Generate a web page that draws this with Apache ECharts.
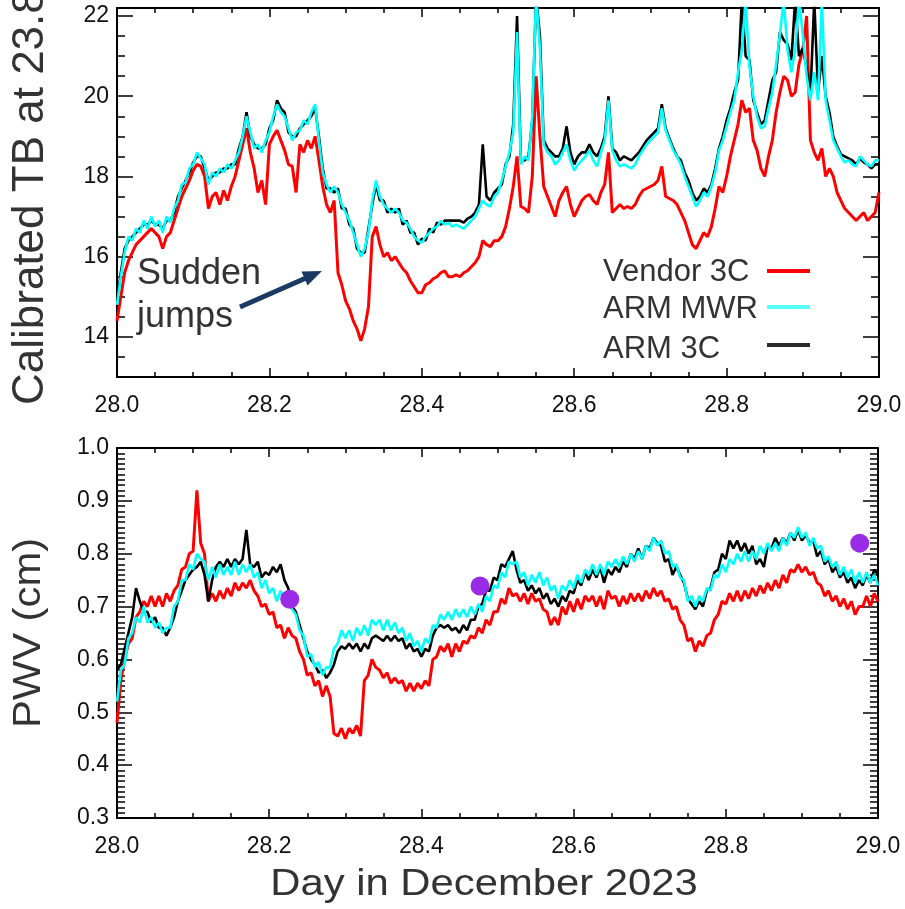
<!DOCTYPE html>
<html>
<head>
<meta charset="utf-8">
<script src="https://cdn.jsdelivr.net/npm/echarts@6/dist/echarts.min.js"></script>
<style>
html,body{margin:0;padding:0;background:#fff;}
#chart{width:905px;height:909px;}
</style>
</head>
<body>
<div id="chart"></div>
<script>
// Sampling grid of the time series (day in December 2023)
const timeStart = 28.0;
const timeStep = 0.005;

// Top panel: calibrated TB at 23.8 GHz (K), one value per time step
const tbVendor3C = [
14.4,15.0,15.6,15.9,16.1,16.3,16.4,16.5,16.6,16.7,
16.6,16.5,16.2,16.5,16.6,16.9,17.2,17.5,17.7,17.9,
18.15,18.3,18.25,18.0,17.2,17.5,17.6,17.3,17.65,17.4,
17.75,18.0,18.4,18.8,19.2,18.6,18.2,17.6,17.9,17.3,
18.8,19.0,19.15,18.9,18.65,18.3,18.25,17.6,18.8,18.6,
18.9,18.7,19.0,18.4,17.75,17.3,17.1,17.4,15.6,15.3,
14.9,14.7,14.4,14.2,13.9,14.2,14.75,16.5,16.75,16.3,
16.0,16.1,15.9,16.0,15.85,15.7,15.6,15.4,15.25,15.1,
15.1,15.3,15.35,15.45,15.5,15.6,15.65,15.5,15.5,15.55,
15.5,15.6,15.65,15.75,15.85,16.0,16.4,16.3,16.25,16.4,
16.4,16.5,16.75,17.2,17.75,18.5,17.25,17.2,17.1,18.0,
20.5,19.0,17.75,17.5,17.25,17.0,17.4,17.6,17.75,17.3,
17.0,17.2,17.4,17.5,17.55,17.4,17.3,17.6,17.8,18.6,
17.1,17.2,17.3,17.2,17.25,17.2,17.3,17.5,17.65,17.7,
17.75,17.8,17.9,18.25,17.5,17.45,17.4,17.3,17.1,16.9,
16.6,16.3,16.2,16.4,16.6,16.5,16.75,17.2,17.75,17.6,
18.0,18.5,18.9,19.3,19.9,19.6,19.7,18.9,18.65,18.2,
18.0,18.5,18.9,19.6,20.1,20.5,20.4,20.0,20.1,20.8,
21.15,22.0,18.9,18.6,18.4,18.7,18.0,18.2,18.0,17.6,
17.4,17.2,17.1,17.0,16.9,17.0,17.1,16.9,17.0,17.1,
17.6
];
const tbArmMWR = [
14.8,15.5,16.1,16.5,16.4,16.7,16.6,16.9,16.7,17.0,
16.75,16.9,16.6,17.0,16.85,17.2,17.4,17.8,17.85,18.2,
18.3,18.6,18.45,18.3,17.8,18.1,18.0,18.2,18.1,18.3,
18.2,18.4,18.6,19.0,19.5,19.1,18.7,18.8,18.6,18.9,
19.1,19.5,19.8,19.6,19.5,19.2,18.9,19.1,19.15,19.4,
19.3,19.6,19.8,18.9,18.1,17.8,17.6,17.75,17.6,17.3,
17.1,16.9,16.6,16.3,16.0,16.2,16.6,17.4,17.9,17.5,
17.3,17.2,17.1,17.2,17.1,16.9,16.85,16.7,16.5,16.4,
16.35,16.5,16.6,16.7,16.75,16.9,16.8,16.85,16.75,16.8,
16.75,16.7,16.8,16.9,17.0,17.2,17.4,17.3,17.25,17.5,
17.6,17.9,18.25,18.6,19.1,21.6,18.3,18.5,18.4,19.5,
22.5,21.2,18.8,18.6,18.5,18.3,18.4,18.6,18.8,18.4,
18.15,18.3,18.4,18.5,18.65,18.4,18.25,18.6,18.9,19.9,
18.65,18.4,18.25,18.3,18.25,18.2,18.3,18.5,18.65,18.8,
18.9,19.0,19.1,19.7,19.15,18.9,18.65,18.5,18.3,18.0,
17.75,17.5,17.25,17.4,17.6,17.5,17.75,18.1,18.65,18.9,
19.25,19.6,19.9,20.6,21.15,22.4,20.75,20.0,19.5,19.2,
19.25,19.7,20.1,20.8,21.55,22.4,21.15,20.6,21.15,22.4,
21.55,20.5,19.9,20.6,19.9,22.4,19.9,19.4,18.9,18.7,
18.5,18.35,18.4,18.3,18.25,18.5,18.4,18.3,18.25,18.4,
18.4
];
const tbArm3C = [
14.9,15.6,16.2,16.4,16.5,16.6,16.7,16.8,16.8,16.9,
16.8,16.8,16.7,16.9,16.9,17.1,17.5,17.7,17.9,18.1,
18.35,18.5,18.5,18.2,17.9,18.0,18.1,18.1,18.2,18.2,
18.3,18.3,18.7,19.0,19.6,19.0,18.8,18.7,18.7,18.8,
19.2,19.4,19.9,19.7,19.6,19.1,19.0,19.0,19.2,19.3,
19.4,19.5,19.7,19.0,18.2,17.7,17.7,17.6,17.7,17.2,
17.2,16.8,16.7,16.2,16.1,16.1,16.7,17.3,17.8,17.4,
17.4,17.1,17.2,17.1,17.2,16.8,16.9,16.6,16.6,16.3,
16.45,16.4,16.7,16.6,16.85,16.8,16.9,16.9,16.9,16.9,
16.9,16.85,16.95,17.0,17.1,17.3,18.8,17.5,17.4,17.6,
17.7,17.8,18.3,18.5,19.3,22.0,18.4,18.4,18.5,19.4,
22.5,21.5,18.9,18.7,18.6,18.5,18.5,18.7,19.25,18.6,
18.3,18.5,18.6,18.6,18.8,18.6,18.5,18.7,19.0,20.0,
18.7,18.6,18.4,18.5,18.45,18.4,18.5,18.6,18.75,18.9,
19.0,19.1,19.2,19.8,19.2,18.95,18.7,18.5,18.4,18.1,
17.9,17.6,17.4,17.5,17.7,17.6,17.8,18.2,18.7,19.0,
19.4,19.7,20.1,20.4,22.4,21.0,20.9,19.9,19.6,19.3,
19.4,19.9,20.4,20.6,21.6,21.4,21.3,20.9,22.4,21.0,
21.2,20.7,20.0,22.4,20.1,21.0,20.0,19.6,19.0,18.75,
18.55,18.5,18.45,18.4,18.3,18.45,18.35,18.3,18.2,18.3,
18.3
];

// Bottom panel: PWV (cm), one value per time step
const pwvVendor3C = [
0.48,0.56,0.60,0.63,0.64,0.68,0.69,0.71,0.70,0.72,
0.70,0.72,0.70,0.725,0.71,0.73,0.74,0.77,0.775,0.80,
0.805,0.92,0.82,0.80,0.71,0.725,0.71,0.73,0.715,0.735,
0.72,0.745,0.73,0.745,0.735,0.75,0.73,0.72,0.70,0.705,
0.685,0.69,0.66,0.665,0.64,0.66,0.645,0.64,0.615,0.60,
0.57,0.575,0.55,0.56,0.53,0.55,0.53,0.46,0.455,0.47,
0.45,0.47,0.46,0.475,0.455,0.56,0.57,0.60,0.585,0.58,
0.565,0.575,0.555,0.565,0.555,0.56,0.54,0.555,0.54,0.555,
0.545,0.56,0.55,0.60,0.605,0.625,0.615,0.63,0.605,0.63,
0.615,0.635,0.63,0.645,0.64,0.66,0.65,0.675,0.665,0.69,
0.69,0.715,0.705,0.735,0.72,0.725,0.71,0.725,0.705,0.725,
0.71,0.715,0.695,0.69,0.665,0.68,0.665,0.70,0.685,0.71,
0.69,0.715,0.695,0.72,0.71,0.72,0.70,0.72,0.695,0.73,
0.715,0.72,0.70,0.72,0.705,0.725,0.71,0.725,0.71,0.73,
0.715,0.735,0.72,0.73,0.71,0.715,0.695,0.70,0.675,0.665,
0.635,0.64,0.615,0.635,0.625,0.645,0.65,0.675,0.685,0.71,
0.705,0.725,0.71,0.73,0.71,0.73,0.715,0.735,0.72,0.74,
0.725,0.745,0.73,0.75,0.735,0.76,0.745,0.77,0.765,0.78,
0.765,0.775,0.76,0.765,0.745,0.74,0.72,0.73,0.71,0.72,
0.70,0.715,0.695,0.71,0.685,0.70,0.70,0.72,0.70,0.725,
0.71
];
const pwvArmMWR = [
0.52,0.58,0.59,0.64,0.65,0.68,0.67,0.70,0.67,0.68,
0.66,0.67,0.65,0.66,0.66,0.70,0.71,0.75,0.75,0.78,
0.77,0.80,0.79,0.785,0.75,0.775,0.755,0.78,0.76,0.775,
0.76,0.785,0.76,0.78,0.765,0.78,0.755,0.765,0.735,0.75,
0.725,0.735,0.71,0.73,0.71,0.72,0.695,0.685,0.655,0.645,
0.605,0.61,0.585,0.595,0.57,0.585,0.585,0.62,0.63,0.655,
0.64,0.655,0.635,0.66,0.645,0.665,0.645,0.675,0.665,0.675,
0.655,0.675,0.655,0.67,0.65,0.66,0.635,0.65,0.625,0.635,
0.615,0.64,0.63,0.665,0.66,0.685,0.675,0.69,0.675,0.695,
0.68,0.695,0.68,0.70,0.685,0.705,0.69,0.72,0.71,0.74,
0.735,0.765,0.755,0.785,0.78,0.785,0.755,0.765,0.74,0.76,
0.745,0.765,0.74,0.755,0.73,0.74,0.715,0.74,0.73,0.75,
0.735,0.76,0.745,0.77,0.76,0.78,0.76,0.78,0.76,0.785,
0.775,0.79,0.775,0.795,0.78,0.80,0.785,0.805,0.79,0.815,
0.805,0.83,0.815,0.825,0.80,0.805,0.775,0.78,0.755,0.75,
0.71,0.72,0.70,0.72,0.71,0.735,0.73,0.76,0.755,0.78,
0.765,0.79,0.78,0.80,0.785,0.805,0.785,0.805,0.79,0.815,
0.80,0.82,0.805,0.82,0.805,0.83,0.815,0.84,0.83,0.85,
0.83,0.84,0.815,0.83,0.81,0.815,0.785,0.795,0.775,0.785,
0.76,0.775,0.755,0.77,0.745,0.765,0.745,0.765,0.745,0.76,
0.74
];
const pwvArm3C = [
0.58,0.59,0.62,0.65,0.68,0.735,0.71,0.69,0.69,0.67,
0.68,0.66,0.66,0.645,0.66,0.68,0.71,0.73,0.75,0.76,
0.77,0.775,0.785,0.76,0.71,0.75,0.775,0.785,0.775,0.79,
0.775,0.79,0.78,0.79,0.845,0.78,0.775,0.785,0.755,0.765,
0.76,0.775,0.765,0.78,0.75,0.735,0.70,0.69,0.665,0.64,
0.615,0.60,0.59,0.575,0.58,0.565,0.575,0.59,0.615,0.625,
0.62,0.63,0.62,0.63,0.615,0.63,0.62,0.64,0.645,0.64,
0.635,0.645,0.635,0.645,0.635,0.64,0.62,0.63,0.615,0.62,
0.605,0.62,0.615,0.645,0.66,0.665,0.66,0.665,0.655,0.66,
0.65,0.665,0.655,0.675,0.675,0.70,0.705,0.73,0.73,0.755,
0.75,0.78,0.775,0.79,0.805,0.77,0.745,0.75,0.73,0.74,
0.725,0.735,0.715,0.725,0.705,0.715,0.70,0.72,0.71,0.73,
0.725,0.75,0.74,0.765,0.75,0.77,0.755,0.775,0.745,0.77,
0.76,0.775,0.765,0.785,0.775,0.80,0.79,0.81,0.79,0.815,
0.81,0.83,0.82,0.815,0.785,0.79,0.76,0.775,0.76,0.745,
0.715,0.705,0.695,0.71,0.70,0.73,0.735,0.765,0.77,0.80,
0.79,0.825,0.81,0.825,0.805,0.82,0.80,0.815,0.78,0.79,
0.775,0.815,0.81,0.83,0.815,0.83,0.82,0.84,0.825,0.845,
0.825,0.835,0.82,0.825,0.795,0.805,0.78,0.79,0.765,0.775,
0.755,0.765,0.745,0.755,0.735,0.75,0.74,0.76,0.745,0.77,
0.76
];
// Purple reference points in the PWV panel: [day, PWV]
const pwvPointDays = [28.227, 28.477, 28.976];
const pwvPointValues = [0.714, 0.739, 0.82];

// Axis ticks
const xMin = 28.0, xMax = 29.0, xStep = 0.2;
const tbMin = 13, tbMax = 22.2, tbLabelValues = [14, 16, 18, 20, 22];
const pwvMin = 0.3, pwvMax = 1.0, pwvStep = 0.1;

function toPairs(arr) {
  return arr.map((v, i) => [+(timeStart + i * timeStep).toFixed(3), v]);
}

const chart = echarts.init(document.getElementById('chart'), null, {renderer: 'canvas'});
const FONT = '"Liberation Sans", Arial, sans-serif';
const axisLine = {show: true, onZero: false, lineStyle: {color: '#000', width: 2}};
const tickLine = {color: '#000', width: 1.5};

function xAxisDef(grid, pos, labels) {
  return {
    type: 'value', gridIndex: grid, position: pos, min: xMin, max: xMax, interval: xStep,
    axisLine: axisLine,
    axisTick: {show: true, inside: true, length: 9, lineStyle: tickLine},
    minorTick: {show: true, splitNumber: 4, length: 5, lineStyle: tickLine},
    splitLine: {show: false}, minorSplitLine: {show: false},
    axisLabel: {show: labels, margin: 17, fontFamily: FONT, fontSize: 23, color: '#111',
      formatter: v => v.toFixed(1)}
  };
}

function lineSeries(name, xi, yi, arr, color, width) {
  return {name: name, type: 'line', xAxisIndex: xi, yAxisIndex: yi, data: toPairs(arr),
    showSymbol: false, symbol: 'none', clip: true,
    lineStyle: {color: color, width: width, join: 'bevel'}, itemStyle: {color: color}};
}

const option = {
  animation: false,
  backgroundColor: '#fff',
  grid: [
    {left: 117, top: 8, width: 762, height: 369},
    {left: 117, top: 448, width: 761, height: 370}
  ],
  xAxis: [
    xAxisDef(0, 'bottom', true),
    xAxisDef(0, 'top', false),
    xAxisDef(1, 'bottom', true),
    xAxisDef(1, 'top', false)
  ],
  yAxis: [
    { type: 'value', gridIndex: 0, position: 'left', min: tbMin, max: tbMax, interval: 0.5,
      axisLine: axisLine,
      axisTick: {show: true, inside: true, length: 8, lineStyle: tickLine},
      splitLine: {show: false},
      axisLabel: {show: true, customValues: tbLabelValues, margin: 8, fontFamily: FONT, fontSize: 23, color: '#111',
        formatter: v => String(Math.round(v))} },
    { type: 'value', gridIndex: 0, position: 'left', min: tbMin, max: tbMax, interval: 0.5,
      axisLine: {show: false},
      axisTick: {show: true, inside: true, length: 16, customValues: tbLabelValues, lineStyle: tickLine},
      splitLine: {show: false}, axisLabel: {show: false} },
    { type: 'value', gridIndex: 0, position: 'right', min: tbMin, max: tbMax, interval: 0.5,
      axisLine: axisLine,
      axisTick: {show: true, inside: true, length: 8, lineStyle: tickLine},
      splitLine: {show: false}, axisLabel: {show: false} },
    { type: 'value', gridIndex: 0, position: 'right', min: tbMin, max: tbMax, interval: 0.5,
      axisLine: {show: false},
      axisTick: {show: true, inside: true, length: 16, customValues: tbLabelValues, lineStyle: tickLine},
      splitLine: {show: false}, axisLabel: {show: false} },
    { type: 'value', gridIndex: 1, position: 'left', min: pwvMin, max: pwvMax, interval: pwvStep,
      axisLine: axisLine,
      axisTick: {show: true, inside: true, length: 15, lineStyle: tickLine},
      minorTick: {show: true, splitNumber: 10, length: 8, lineStyle: tickLine},
      splitLine: {show: false}, minorSplitLine: {show: false},
      axisLabel: {show: true, margin: 8, fontFamily: FONT, fontSize: 23, color: '#111',
        formatter: v => v.toFixed(1)} },
    { type: 'value', gridIndex: 1, position: 'right', min: pwvMin, max: pwvMax, interval: pwvStep,
      axisLine: axisLine,
      axisTick: {show: true, inside: true, length: 15, lineStyle: tickLine},
      minorTick: {show: true, splitNumber: 10, length: 8, lineStyle: tickLine},
      splitLine: {show: false}, minorSplitLine: {show: false},
      axisLabel: {show: false} }
  ],
  series: [
    lineSeries('Vendor 3C', 0, 0, tbVendor3C, '#ff0000', 3),
    lineSeries('ARM 3C', 0, 0, tbArm3C, '#000000', 2.6),
    lineSeries('ARM MWR', 0, 0, tbArmMWR, '#00ffff', 2.6),
    lineSeries('Vendor 3C', 2, 4, pwvVendor3C, '#ff0000', 3),
    lineSeries('ARM 3C', 2, 4, pwvArm3C, '#000000', 2.6),
    lineSeries('ARM MWR', 2, 4, pwvArmMWR, '#00ffff', 2.6),
    {name: 'Reference PWV', type: 'scatter', xAxisIndex: 2, yAxisIndex: 4,
      data: pwvPointDays.map((d, i) => [d, pwvPointValues[i]]),
      symbol: 'circle', symbolSize: 19, itemStyle: {color: '#9a2be6', opacity: 1}, z: 5}
  ],
  graphic: [
    // axis titles
    {type: 'text', x: 31, y: 405, rotation: Math.PI / 2,
      style: {text: 'Calibrated TB at 23.8', font: '44px ' + FONT, fill: '#333', align: 'left', verticalAlign: 'middle'}},
    {type: 'text', x: 29, y: 633, rotation: Math.PI / 2, scaleX: 1.07,
      style: {text: 'PWV (cm)', font: '39px ' + FONT, fill: '#333', align: 'center', verticalAlign: 'middle'}},
    {type: 'text', x: 484, y: 885, scaleX: 1.13,
      style: {text: 'Day in December 2023', font: '37px ' + FONT, fill: '#333', align: 'center', verticalAlign: 'middle'}},
    // legend
    {type: 'text', x: 603, y: 272, style: {text: 'Vendor 3C', font: '31px ' + FONT, fill: '#333', align: 'left', verticalAlign: 'middle'}},
    {type: 'text', x: 603, y: 309, style: {text: 'ARM MWR', font: '31px ' + FONT, fill: '#333', align: 'left', verticalAlign: 'middle'}},
    {type: 'text', x: 603, y: 349, style: {text: 'ARM 3C', font: '31px ' + FONT, fill: '#333', align: 'left', verticalAlign: 'middle'}},
    {type: 'line', shape: {x1: 767, y1: 271, x2: 810, y2: 271}, style: {stroke: '#ff0000', lineWidth: 4}},
    {type: 'line', shape: {x1: 767, y1: 307, x2: 810, y2: 307}, style: {stroke: '#55ffff', lineWidth: 4}},
    {type: 'line', shape: {x1: 767, y1: 345, x2: 810, y2: 345}, style: {stroke: '#2a2a2a', lineWidth: 4}},
    // annotation
    {type: 'text', x: 137, y: 274, style: {text: 'Sudden', font: '36px ' + FONT, fill: '#333', align: 'left', verticalAlign: 'middle'}},
    {type: 'text', x: 137, y: 317, style: {text: 'jumps', font: '36px ' + FONT, fill: '#333', align: 'left', verticalAlign: 'middle'}},
    {type: 'line', shape: {x1: 240, y1: 307, x2: 306, y2: 278}, style: {stroke: '#1b3a63', lineWidth: 5}},
    {type: 'polygon', shape: {points: [[322, 271], [307.5, 285.5], [301.5, 271.5]]}, style: {fill: '#1b3a63'}}
  ]
};
chart.setOption(option);
</script>
</body>
</html>
